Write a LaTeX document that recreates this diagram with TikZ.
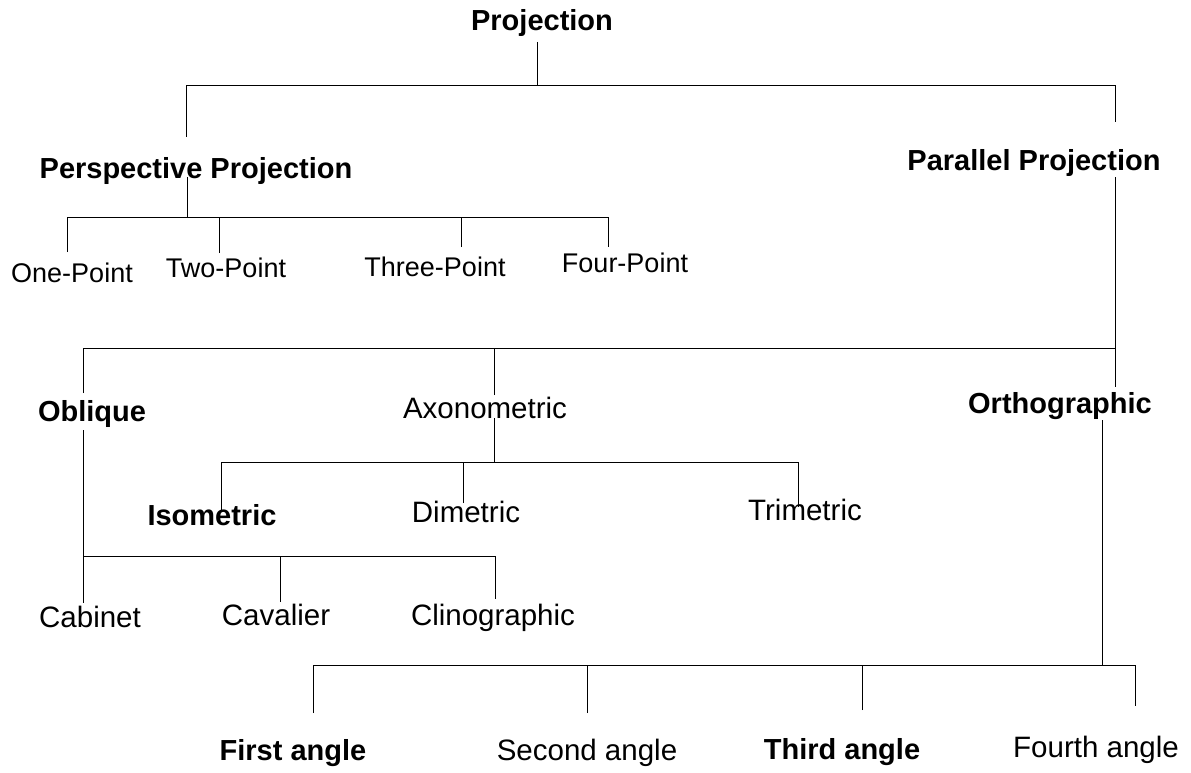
\documentclass[tikz,border=0pt]{standalone}
\usepackage{fontspec}
\setmainfont{Liberation Sans}
\usepackage{tikz}
\tikzstyle{head} = [font=\fontsize{29}{34}\selectfont\bfseries, inner sep=0pt, text height=21pt, text depth=6pt]
\tikzstyle{leaf} = [font=\fontsize{29.5}{34}\selectfont, inner sep=0pt, text height=21pt, text depth=6pt]
\tikzstyle{point} = [leaf, font=\fontsize{27}{32}\selectfont]
\tikzstyle{branch} = [line width=1pt, black]

\begin{document}
\begin{tikzpicture}[x=1pt, y=-1pt]
    \useasboundingbox (0,0) rectangle (1191,773);
    % labels
    \node (proj) [head] at (542,23.5) {Projection};
    \node (persp) [head] at (196,170.5) {Perspective Projection};
    \node (par) [head] at (1034,162.5) {Parallel Projection};
    \node (one) [point] at (72,274.5) {One-Point};
    \node (two) [point] at (226,269.5) {Two-Point};
    \node (three) [point] at (435,268.5) {Three-Point};
    \node (four) [point] at (625,264.5) {Four-Point};
    \node (obl) [head] at (92,413.5) {Oblique};
    \node (axo) [leaf] at (485,410.5) {Axonometric};
    \node (ortho) [head] at (1060,405.5) {Orthographic};
    \node (iso) [head] at (212,517.5) {Isometric};
    \node (dim) [leaf] at (466,514.5) {Dimetric};
    \node (tri) [leaf] at (805,512.5) {Trimetric};
    \node (cab) [leaf] at (90,619.5) {Cabinet};
    \node (cav) [leaf] at (276,617.5) {Cavalier};
    \node (clino) [leaf] at (493,617.5) {Clinographic};
    \node (first) [head] at (293,752.5) {First angle};
    \node (second) [leaf] at (587,752.5) {Second angle};
    \node (third) [head] at (842,751.5) {Third angle};
    \node (fourth) [leaf] at (1096,749.5) {Fourth angle};

    % Projection
    \coordinate (projdown) at (537,42);
    \coordinate (bar0) at (0,86);
    \coordinate (persp-up) at (186,137);
    \coordinate (par-up) at (1115,122);
    \draw [branch] (projdown) -- (projdown |- bar0);
    \draw [branch] (persp-up) |- (par-up |- bar0) -- (par-up);

    % Perspective Projection
    \coordinate (perspdown) at (187,177);
    \coordinate (bar1) at (0,217);
    \coordinate (one-up) at (67,252);
    \coordinate (two-up) at (219,253);
    \coordinate (three-up) at (461,247);
    \coordinate (four-up) at (608,247);
    \draw [branch] (perspdown) -- (perspdown |- bar1);
    \draw [branch] (one-up) |- (four-up |- bar1) -- (four-up);
    \draw [branch] (two-up) -- (two-up |- bar1);
    \draw [branch] (three-up) -- (three-up |- bar1);

    % Parallel Projection
    \coordinate (pardown) at (1115,177);
    \coordinate (bar2) at (0,348);
    \coordinate (obl-up) at (83,393);
    \coordinate (axo-up) at (494,395);
    \coordinate (ortho-up) at (1115,387);
    \draw [branch] (pardown) -- (ortho-up);
    \draw [branch] (obl-up) |- (ortho-up |- bar2);
    \draw [branch] (axo-up) -- (axo-up |- bar2);

    % Axonometric
    \coordinate (axodown) at (494,418);
    \coordinate (bar3) at (0,462);
    \coordinate (iso-up) at (221,510);
    \coordinate (dim-up) at (463,503);
    \coordinate (tri-up) at (798,507);
    \draw [branch] (axodown) -- (axodown |- bar3);
    \draw [branch] (iso-up) |- (tri-up |- bar3) -- (tri-up);
    \draw [branch] (dim-up) -- (dim-up |- bar3);

    % Oblique
    \coordinate (obldown) at (83,430);
    \coordinate (bar4) at (0,556);
    \coordinate (cab-up) at (83,603);
    \coordinate (cav-up) at (280,602);
    \coordinate (clino-up) at (495,599);
    \draw [branch] (obldown) -- (cab-up);
    \draw [branch] (obldown |- bar4) -| (clino-up);
    \draw [branch] (cav-up) -- (cav-up |- bar4);

    % Orthographic
    \coordinate (orthodown) at (1102,420);
    \coordinate (bar5) at (0,665);
    \coordinate (first-up) at (313,713);
    \coordinate (second-up) at (587,713);
    \coordinate (third-up) at (862,710);
    \coordinate (fourth-up) at (1135,706);
    \draw [branch] (orthodown) -- (orthodown |- bar5);
    \draw [branch] (first-up) |- (fourth-up |- bar5) -- (fourth-up);
    \draw [branch] (second-up) -- (second-up |- bar5);
    \draw [branch] (third-up) -- (third-up |- bar5);
\end{tikzpicture}
\end{document}
